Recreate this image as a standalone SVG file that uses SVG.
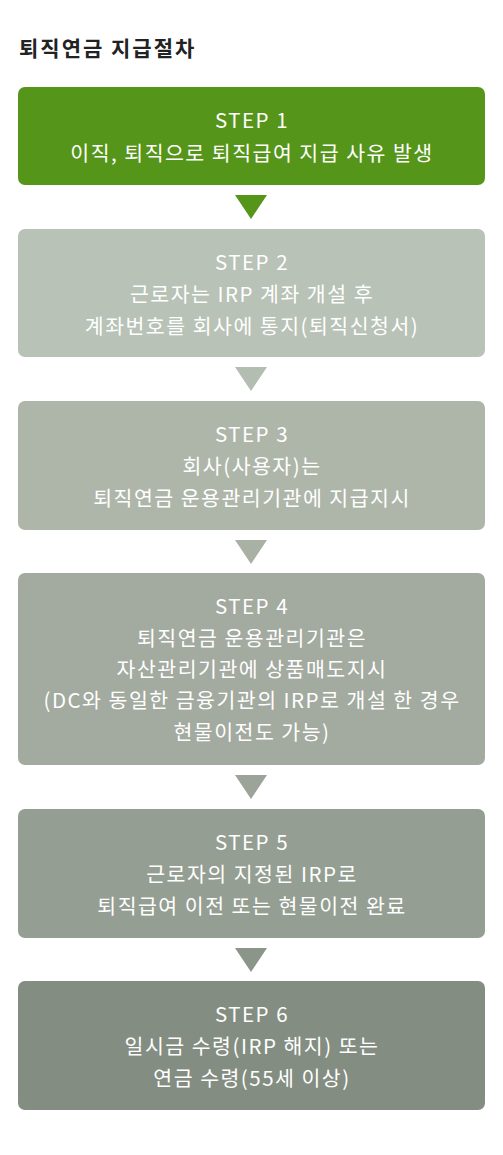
<svg xmlns="http://www.w3.org/2000/svg" width="503" height="1155" viewBox="0 0 503 1155">
<style>
.t{font-family:"Noto Sans CJK KR","Noto Sans",sans-serif;font-size:20.5px;letter-spacing:1.5px;fill:#fff;text-anchor:middle;}
.title{font-family:"Noto Sans CJK KR","Noto Sans",sans-serif;font-size:21px;letter-spacing:2px;font-weight:bold;fill:#222;}
</style>
<rect width="503" height="1155" fill="#fff"/>
<text class="title" x="19" y="56">퇴직연금 지급절차</text>
<g id="connectors">
<polygon points="235,195 267,195 251,219" fill="#55961a"/>
<polygon points="235,367 267,367 251,391" fill="#b4bdb1"/>
<polygon points="235,540 267,540 251,564" fill="#a9b1a5"/>
<polygon points="235,775 267,775 251,799" fill="#9ca499"/>
<polygon points="235,948 267,948 251,972" fill="#8c9589"/>
</g>
<g id="step1">
<rect x="18" y="87" width="467" height="98" rx="7" fill="#55961a"/>
<text class="t" x="252" y="128">STEP 1</text>
<text class="t" x="252" y="161">이직, 퇴직으로 퇴직급여 지급 사유 발생</text>
</g>
<g id="step2">
<rect x="18" y="229" width="467" height="128" rx="7" fill="#b8c2b6"/>
<text class="t" x="252" y="270">STEP 2</text>
<text class="t" x="252" y="302">근로자는 IRP 계좌 개설 후</text>
<text class="t" x="252" y="334">계좌번호를 회사에 통지(퇴직신청서)</text>
</g>
<g id="step3">
<rect x="18" y="401" width="467" height="129" rx="7" fill="#aeb6aa"/>
<text class="t" x="252" y="442">STEP 3</text>
<text class="t" x="252" y="474">회사(사용자)는</text>
<text class="t" x="252" y="506">퇴직연금 운용관리기관에 지급지시</text>
</g>
<g id="step4">
<rect x="18" y="573" width="467" height="192" rx="7" fill="#a3aa9f"/>
<text class="t" x="252" y="614">STEP 4</text>
<text class="t" x="252" y="646">퇴직연금 운용관리기관은</text>
<text class="t" x="252" y="677">자산관리기관에 상품매도지시</text>
<text class="t" x="252" y="708">(DC와 동일한 금융기관의 IRP로 개설 한 경우</text>
<text class="t" x="252" y="740">현물이전도 가능)</text>
</g>
<g id="step5">
<rect x="18" y="809" width="467" height="129" rx="7" fill="#959e92"/>
<text class="t" x="252" y="850">STEP 5</text>
<text class="t" x="252" y="882">근로자의 지정된 IRP로</text>
<text class="t" x="252" y="914">퇴직급여 이전 또는 현물이전 완료</text>
</g>
<g id="step6">
<rect x="18" y="981" width="467" height="129" rx="7" fill="#838d81"/>
<text class="t" x="252" y="1022">STEP 6</text>
<text class="t" x="252" y="1054">일시금 수령(IRP 해지) 또는</text>
<text class="t" x="252" y="1086">연금 수령(55세 이상)</text>
</g>
</svg>
